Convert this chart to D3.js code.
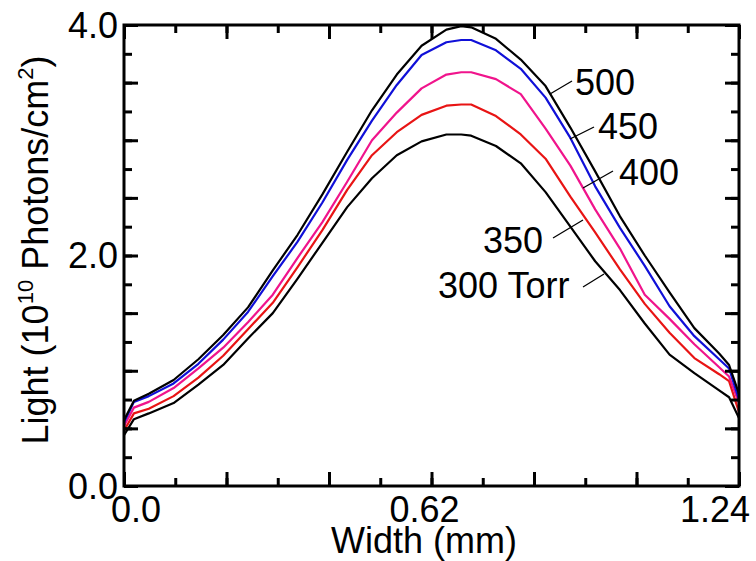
<!DOCTYPE html>
<html><head><meta charset="utf-8">
<script src="https://cdn.jsdelivr.net/npm/d3@7"></script>
<style>
body{margin:0;background:#fff}
text{font-family:"Liberation Sans",Arial,Helvetica,sans-serif;fill:#000}
</style>
</head><body>
<svg id="c" width="756" height="561"></svg>
<script>
// ---- data ----
const widthMM = [0,0.02,0.05,0.1,0.15,0.2,0.25,0.3,0.35,0.4,0.45,0.5,0.55,0.6,0.65,0.68,0.7,0.75,0.8,0.85,0.9,0.95,1.0,1.05,1.1,1.15,1.2,1.22,1.24];
const light300 = [0.44,0.58,0.63,0.72,0.88,1.05,1.28,1.50,1.80,2.11,2.42,2.67,2.87,2.99,3.05,3.05,3.04,2.95,2.80,2.55,2.25,1.95,1.70,1.41,1.14,0.98,0.83,0.77,0.59];
const light350 = [0.48,0.63,0.67,0.78,0.94,1.13,1.36,1.59,1.90,2.22,2.57,2.87,3.07,3.22,3.30,3.31,3.31,3.21,3.05,2.84,2.51,2.20,1.88,1.58,1.33,1.11,0.97,0.91,0.64];
const light400 = [0.52,0.68,0.73,0.85,1.02,1.20,1.42,1.66,1.98,2.29,2.64,3.00,3.24,3.45,3.57,3.59,3.59,3.53,3.40,3.10,2.78,2.40,2.06,1.66,1.45,1.23,1.03,0.95,0.72];
const light450 = [0.55,0.73,0.78,0.89,1.06,1.27,1.51,1.82,2.12,2.46,2.83,3.17,3.48,3.74,3.85,3.87,3.87,3.78,3.62,3.37,3.02,2.60,2.24,1.91,1.56,1.30,1.10,1.02,0.75];
const light500 = [0.57,0.74,0.80,0.92,1.10,1.31,1.55,1.87,2.18,2.53,2.90,3.26,3.57,3.82,3.96,3.99,3.98,3.88,3.70,3.47,3.11,2.73,2.34,2.00,1.68,1.37,1.15,1.05,0.80];
const seriesNames = ["300 Torr","350","400","450","500"];
const seriesColors = ["#000000","#e81414","#f0148c","#1010d8","#000000"];
const xLabelValues = [0,0.62,1.24];
const xTickLabels = ["0.0","0.62","1.24"];
const yLabelValues = [0,2,4];
const yTickLabels = ["0.0","2.0","4.0"];
const xTitle = "Width (mm)";

const series = [light300,light350,light400,light450,light500].map((v,i)=>({
  name: seriesNames[i], color: seriesColors[i],
  pts: v.map((d,j)=>({x: widthMM[j], y: d}))
}));

// ---- layout ----
const svg = d3.select("#c");
const L=124,R=739,T=25,B=486;
const x = d3.scaleLinear().domain([0,1.24]).range([L,R]);
const y = d3.scaleLinear().domain([0,4]).range([B,T]);

const xMinor = d3.range(13).map(i=>i*1.24/12);
const xMajor = xMinor.filter((d,i)=>i%2===0);
const yMinor = d3.range(17).map(i=>i*0.25);
const yMajor = yMinor.filter((d,i)=>i%2===0);

svg.append("defs").append("clipPath").attr("id","pc")
  .append("rect").attr("x",L).attr("y",T).attr("width",R-L).attr("height",B-T);

// curves
const line = d3.line().x(d=>x(d.x)).y(d=>y(d.y));
svg.append("g").attr("clip-path","url(#pc)").selectAll("path").data(series).join("path")
  .attr("d",d=>line(d.pts)).attr("fill","none").attr("stroke",d=>d.color)
  .attr("stroke-width",2.2).attr("stroke-linejoin","round");

// axes (ticks inward on all sides)
function styleAxis(g){
  g.select(".domain").remove();
  g.selectAll(".tick line").attr("stroke","#000").attr("stroke-width",3);
}
const fmtBlank = ()=>"";
function addAxis(axisFn, scale, vals, size, tr){
  svg.append("g").attr("transform",tr)
    .call(axisFn(scale).tickValues(vals).tickSizeInner(-size).tickSizeOuter(0).tickFormat(fmtBlank))
    .call(styleAxis);
}
addAxis(d3.axisBottom,x,xMinor,8,`translate(0,${B})`);
addAxis(d3.axisBottom,x,xMajor,14,`translate(0,${B})`);
addAxis(d3.axisTop,x,xMinor,8,`translate(0,${T})`);
addAxis(d3.axisTop,x,xMajor,14,`translate(0,${T})`);
addAxis(d3.axisLeft,y,yMinor,8,`translate(${L},0)`);
addAxis(d3.axisLeft,y,yMajor,14,`translate(${L},0)`);
addAxis(d3.axisRight,y,yMinor,8,`translate(${R},0)`);
addAxis(d3.axisRight,y,yMajor,14,`translate(${R},0)`);

// frame
svg.append("rect").attr("x",L).attr("y",T).attr("width",R-L).attr("height",B-T)
  .attr("fill","none").attr("stroke","#000").attr("stroke-width",3);

// tick labels
const xShift = [12,-7,-24];
svg.append("g").selectAll("text").data(xLabelValues).join("text")
  .attr("x",(d,i)=>x(d)+xShift[i]).attr("y",522).attr("text-anchor","middle")
  .attr("font-size",36).text((d,i)=>xTickLabels[i]);
svg.append("g").selectAll("text").data(yLabelValues).join("text")
  .attr("x",118).attr("y",d=>y(d)).attr("dy","0.36em").attr("text-anchor","end")
  .attr("font-size",36).text((d,i)=>yTickLabels[i]);

// axis titles
svg.append("text").attr("x",424).attr("y",553).attr("text-anchor","middle")
  .attr("font-size",36).text(xTitle);
const yt = svg.append("text").attr("transform","translate(48,250) rotate(-90)")
  .attr("text-anchor","middle").attr("font-size",36);
yt.append("tspan").text("Light (10");
yt.append("tspan").attr("font-size",22).attr("dy",-15).text("10");
yt.append("tspan").attr("dy",15).text(" Photons/cm");
yt.append("tspan").attr("font-size",22).attr("dy",-15).text("2");
yt.append("tspan").attr("dy",15).text(")");

// curve annotations with leader lines
const ann = [
  {i:4, tx:575, ty:95,  l:[550,94,572,81]},
  {i:3, tx:598, ty:139, l:[570,139,594,127]},
  {i:2, tx:619, ty:185, l:[583,188,613,171]},
  {i:1, tx:483, ty:253, l:[553,238,583,220]},
  {i:0, tx:438, ty:298, l:[583,287,604,274]}
];
const ag = svg.append("g");
ann.forEach(a=>{
  ag.append("line").attr("x1",a.l[0]).attr("y1",a.l[1]).attr("x2",a.l[2]).attr("y2",a.l[3])
    .attr("stroke","#000").attr("stroke-width",1.3);
  ag.append("text").attr("x",a.tx).attr("y",a.ty).attr("font-size",36).text(seriesNames[a.i]);
});
</script>
</body></html>
